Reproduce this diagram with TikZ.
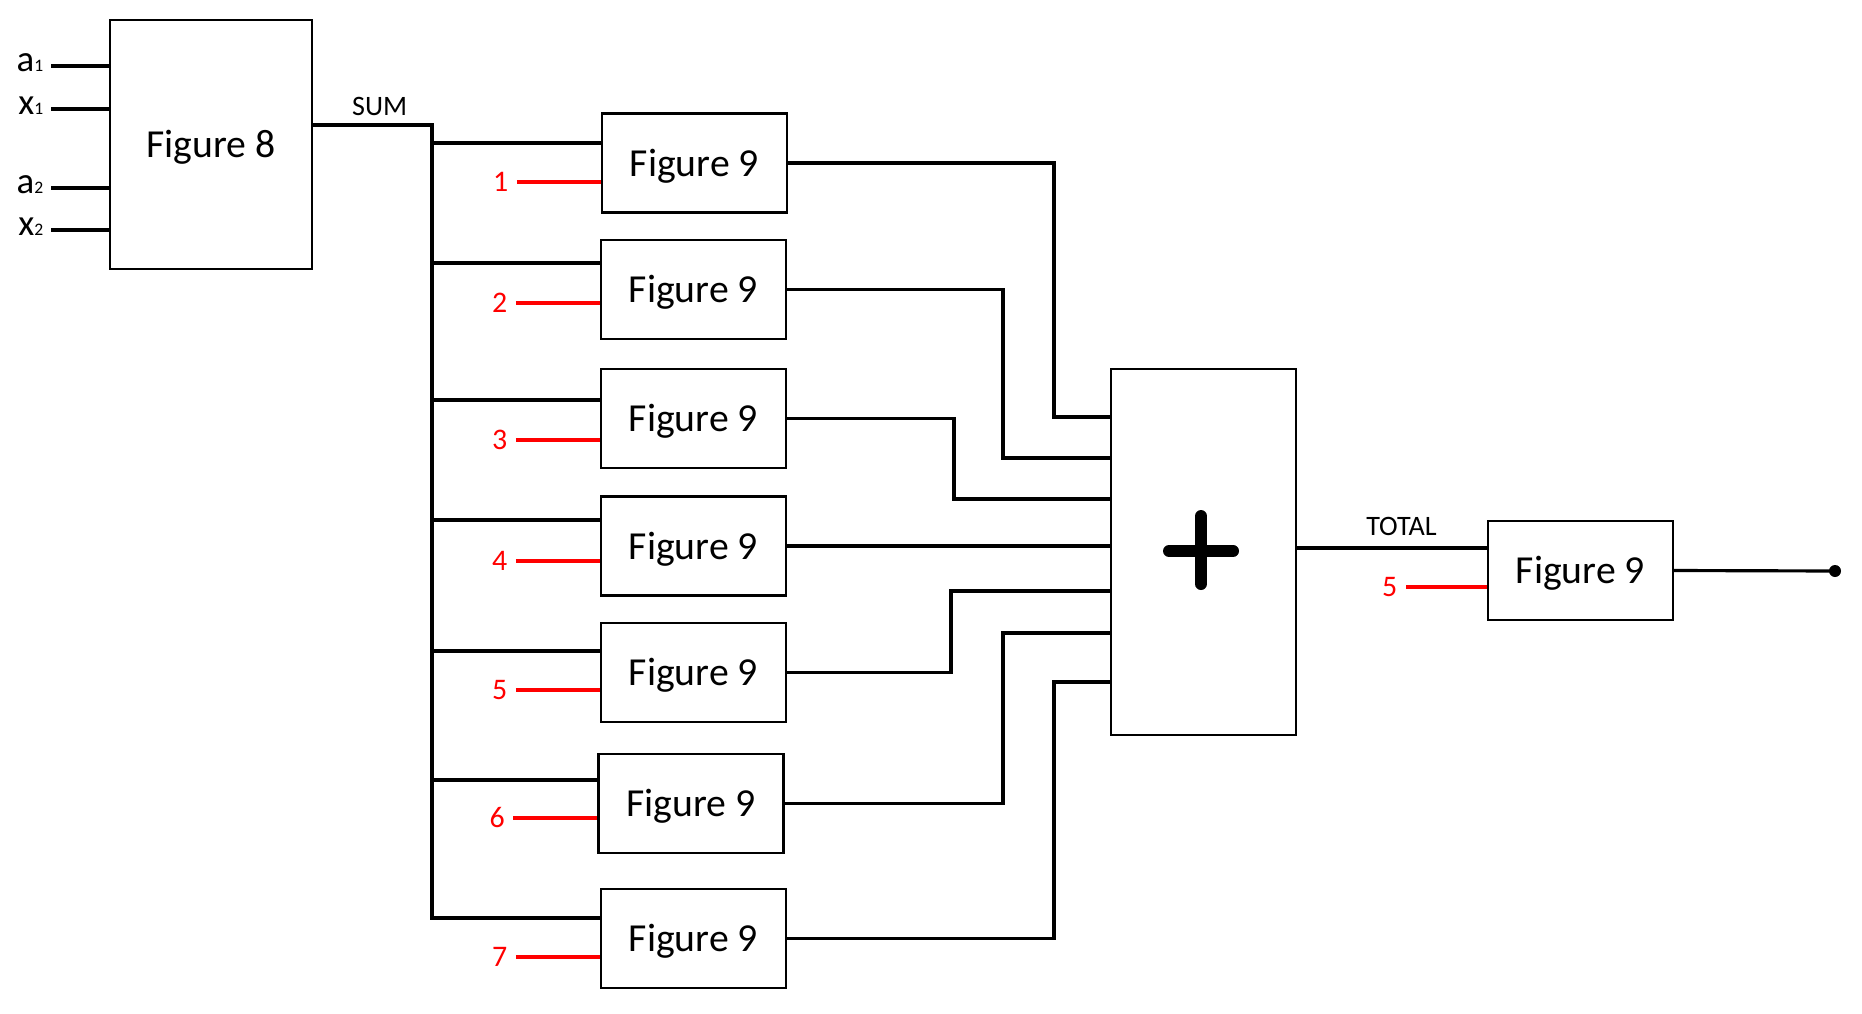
\documentclass[tikz,border=0pt]{standalone}
\usepackage{fontspec}
\setmainfont{Carlito}
\usepackage{tikz}
\usetikzlibrary{calc}
\tikzset{
  blk/.style={draw,line width=0.6pt,inner sep=0pt,text height=1em,text depth=0.25em,font=\fontsize{11.3}{13}\selectfont},
  figbox/.style={blk,minimum width=1.85cm,minimum height=0.99cm},
  wire/.style={line width=0.9pt},
  redwire/.style={line width=0.9pt,red},
  numlab/.style={anchor=east,inner sep=0.8mm,text=red,font=\fontsize{8.5}{10}\selectfont},
  wirelab/.style={font=\fontsize{8}{10}\selectfont},
  inlab/.style={anchor=base east,inner sep=0.07cm,font=\fontsize{10.5}{12}\selectfont},
  plussign/.style={line width=0.12cm,line cap=round}
}
\newcommand{\smallidx}[1]{{\fontsize{5}{6}\selectfont #1}}

\begin{document}
\begin{tikzpicture}[x=1cm,y=-1cm]
\useasboundingbox (0,0) rectangle (18.62,10.13);
\node[blk,minimum width=2.02cm,minimum height=2.49cm] (f8) at (2.11,1.445) {Figure 8};
\foreach \k/\y/\t/\s in {1/0.66/a/1,2/1.09/x/1,3/1.88/a/2,4/2.30/x/2} {
\coordinate (i\k) at (0.51,\y);
\node[inlab] (l\k) at ($(i\k)+(0,0.05)$) {\t\smallidx{\s}};
\draw[wire] (i\k) -- (i\k -| f8.west);
}
\node[blk,minimum width=1.85cm,minimum height=3.66cm] (plus) at (12.035,5.52) {};
\draw[plussign] (11.69,5.51) -- (12.33,5.51);
\draw[plussign] (12.01,5.16) -- (12.01,5.84);
\foreach \i/\xc/\yc/\yt/\yr/\xv/\yp in {
1/6.945/1.63/1.43/1.82/10.54/4.17,
2/6.935/2.895/2.63/3.03/10.03/4.58,
3/6.935/4.185/4.00/4.40/9.54/4.99,
4/6.935/5.46/5.20/5.61/10.00/5.46,
5/6.935/6.725/6.51/6.90/9.51/5.91,
6/6.91/8.035/7.80/8.18/10.03/6.33,
7/6.935/9.385/9.18/9.57/10.54/6.82} {
\node[figbox] (f\i) at (\xc,\yc) {Figure 9};
\coordinate (b\i) at (4.32,\yt);
\draw[wire] (b\i) -- (b\i -| f\i.west);
\node[numlab] (n\i) at ($(f\i.west |- 0,\yr)+(-0.84,0)$) {\i};
\draw[redwire] (n\i.east) -- (n\i.east -| f\i.west);
\coordinate (p\i) at (plus.west |- 0,\yp);
\draw[wire] (f\i.east) -- (f\i.east -| \xv,0) |- (p\i);
}
\coordinate (btop) at (4.32,1.25);
\draw[wire] (f8.east |- btop) -- node[wirelab,pos=0.56,above,inner sep=2.2pt] (sum) {SUM} (btop) -- (b7) -- (b7 -| f7.west);
\node[figbox] (fo) at (15.805,5.705) {Figure 9};
\draw[wire] (plus.east |- 0,5.48) -- node[wirelab,pos=0.55,above,inner sep=3.1pt] (total) {TOTAL} (fo.west |- 0,5.48);
\node[numlab] (n8) at (14.06,5.87) {5};
\draw[redwire] (n8.east) -- (n8.east -| fo.west);
\coordinate (outp) at (18.35,5.71);
\draw[wire] (fo.east) -- (outp);
\fill (outp) circle (0.06);
\end{tikzpicture}
\end{document}
